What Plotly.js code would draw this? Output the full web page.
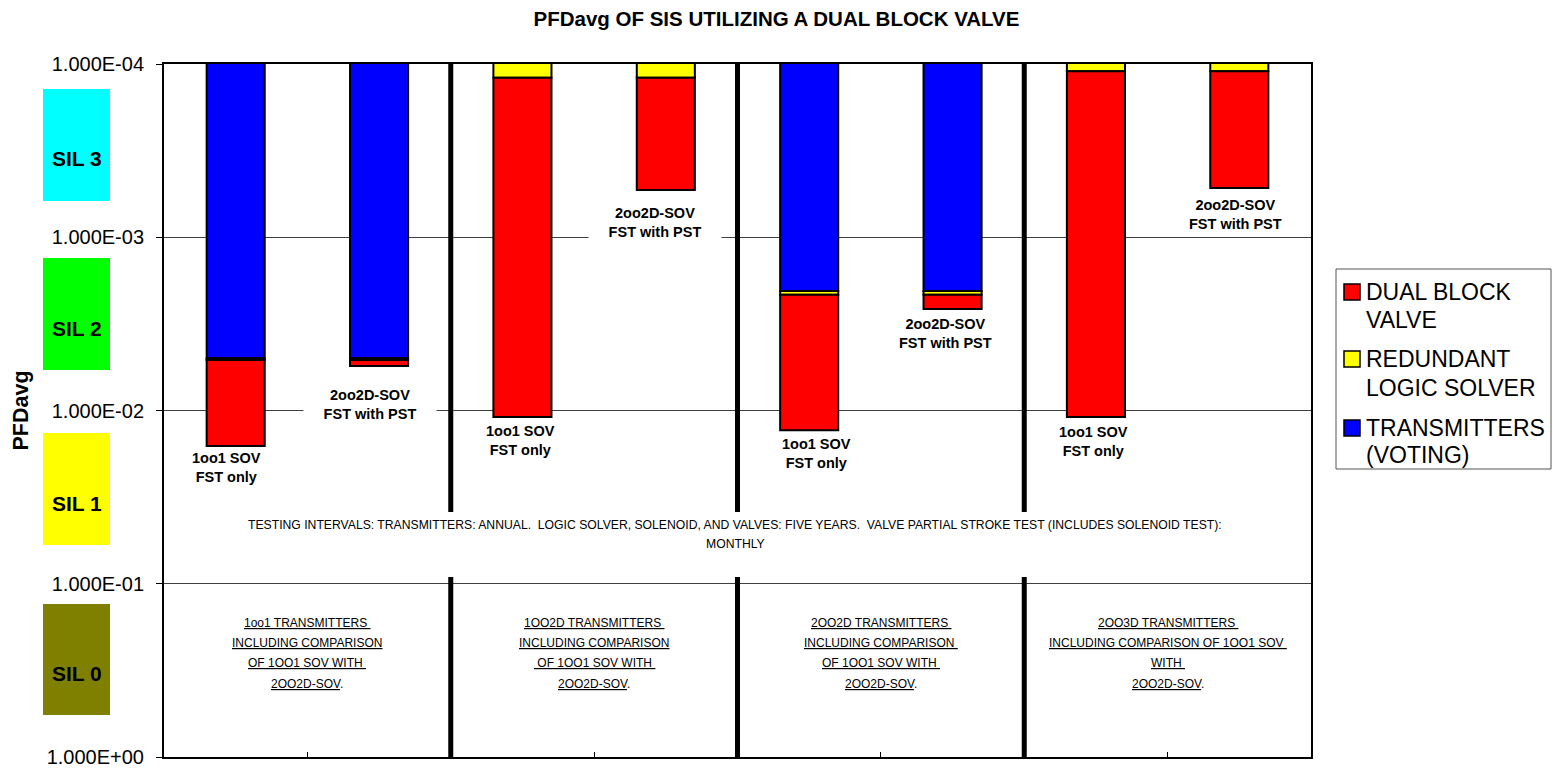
<!DOCTYPE html>
<html><head><meta charset="utf-8">
<script src="https://cdn.plot.ly/plotly-3.0.1.min.js"></script>
<style>html,body{margin:0;padding:0;background:#fff}#chart{width:1553px;height:768px}</style>
</head><body><div id="chart"></div>
<script>
// ---------------- DATA ----------------
const barLabels = [
  '1oo1 SOV<br>FST only', '2oo2D-SOV<br>FST with PST',
  '1oo1 SOV<br>FST only', '2oo2D-SOV<br>FST with PST',
  '1oo1 SOV<br>FST only', '2oo2D-SOV<br>FST with PST',
  '1oo1 SOV<br>FST only', '2oo2D-SOV<br>FST with PST'
];
const seriesNames = ['DUAL BLOCK VALVE', 'REDUNDANT LOGIC SOLVER', 'TRANSMITTERS (VOTING)'];
const transmitters = [5.0e-3, 5.0e-3, 1.2e-5, 1.2e-5, 2.04e-3, 2.04e-3, 2.0e-6, 2.0e-6];
const logicSolver  = [1.08e-4, 1.08e-4, 1.08e-4, 1.08e-4, 1.08e-4, 1.08e-4, 1.08e-4, 1.08e-4];
const dualBlockValve = [1.09e-2, 4.2e-4, 1.078e-2, 4.14e-4, 1.085e-2, 4.5e-4, 1.08e-2, 4.1e-4];
const groupLabels = [
  ['1oo1 TRANSMITTERS\u00a0', 'INCLUDING COMPARISON', 'OF 1OO1 SOV WITH\u00a0', '2OO2D-SOV'],
  ['1OO2D TRANSMITTERS\u00a0', 'INCLUDING COMPARISON', '\u00a0OF 1OO1 SOV WITH\u00a0', '2OO2D-SOV'],
  ['2OO2D TRANSMITTERS\u00a0', 'INCLUDING COMPARISON\u00a0', 'OF 1OO1 SOV WITH\u00a0', '2OO2D-SOV'],
  ['2OO3D TRANSMITTERS\u00a0', 'INCLUDING COMPARISON OF 1OO1 SOV\u00a0', 'WITH\u00a0', '2OO2D-SOV']
];
const noteLines = [
  'TESTING INTERVALS: TRANSMITTERS: ANNUAL.  LOGIC SOLVER, SOLENOID, AND VALVES: FIVE YEARS.  VALVE PARTIAL STROKE TEST (INCLUDES SOLENOID TEST):',
  'MONTHLY'
];
const silLabels = ['SIL 3', 'SIL 2', 'SIL 1', 'SIL 0'];
const silColors = ['#00FFFF', '#00FF00', '#FFFF00', '#808000'];
const yTickVals = [1e-4, 1e-3, 1e-2, 1e-1, 1];
const yTickText = ['1.000E-04', '1.000E-03', '1.000E-02', '1.000E-01', '1.000E+00'];

// ---------------- LAYOUT HELPERS ----------------
const PL = 164, PR = 1311, PT = 64, PB = 757;
const xp = px => (px - PL) / (PR - PL);
const yp = py => (PB - py) / (PB - PT);
const FONT = 'Liberation Sans, Arial, sans-serif';

const xIdx = barLabels.map((_, i) => i);
const FLOOR = 1e-9;
const cum1 = transmitters.slice();
const cum2 = transmitters.map((v, i) => v + logicSolver[i]);
const totals = cum2.map((v, i) => v + dualBlockValve[i]);

const barStyle = {width: 0.405, line: {color: '#000', width: 2}};
const traces = [
  {type: 'bar', name: seriesNames[2], x: xIdx, y: transmitters, base: transmitters.map(() => FLOOR),
   width: barStyle.width, marker: {color: '#0000FF', line: barStyle.line}, showlegend: false, hoverinfo: 'skip'},
  {type: 'bar', name: seriesNames[1], x: xIdx, y: logicSolver, base: cum1,
   width: barStyle.width, marker: {color: '#FFFF00', line: barStyle.line}, showlegend: false, hoverinfo: 'skip'},
  {type: 'bar', name: seriesNames[0], x: xIdx, y: dualBlockValve, base: cum2,
   width: barStyle.width, marker: {color: '#FF0000', line: barStyle.line}, showlegend: false, hoverinfo: 'skip'}
];

// per-label placement (pixels): downward offset of label centre from bar end, horizontal shift
const labelDrop = [21.5, 38.7, 24, 32, 23.3, 24.4, 24, 26.7];
const labelShiftX = [-9, -9, -2, -11, 7, -7, -2, -4];
const labelBg = [false, true, false, true, false, false, false, false];

const annotations = [];
barLabels.forEach((t, i) => {
  annotations.push({
    x: i, y: Math.log10(totals[i]), xref: 'x', yref: 'y', text: '<b>' + t + '</b>',
    showarrow: false, xanchor: 'center', yanchor: 'middle', yshift: -labelDrop[i], xshift: labelShiftX[i],
    font: {family: FONT, size: 14.5, color: '#000'},
    bgcolor: labelBg[i] ? '#ffffff' : 'rgba(0,0,0,0)', width: labelBg[i] ? 128 : undefined, borderpad: 2
  });
});
// note text
const noteY = [525, 544];
noteLines.forEach((t, i) => annotations.push({
  x: xp(735), y: yp(noteY[i]), xref: 'paper', yref: 'paper', text: t, showarrow: false,
  xanchor: 'center', yanchor: 'middle', font: {family: FONT, size: 12.2, color: '#000'}
}));
// group labels
const groupLineY = [623, 643, 663, 684];
groupLabels.forEach((lines, g) => {
  lines.forEach((t, j) => {
    const txt = j === lines.length - 1 ? '<u>' + t + '</u>.' : '<u>' + t + '</u>';
    annotations.push({
      x: 2 * g + 0.5, y: yp(groupLineY[j]), xref: 'x', yref: 'paper', text: txt, showarrow: false,
      xanchor: 'center', yanchor: 'middle', font: {family: FONT, size: 12, color: '#000'}
    });
  });
});
// SIL boxes
const silTop = [89, 258, 433, 604], silBot = [201, 370, 545, 715];
const shapes = [];
silLabels.forEach((s, i) => {
  shapes.push({type: 'rect', xref: 'paper', yref: 'paper', x0: xp(43), x1: xp(110), y0: yp(silBot[i]), y1: yp(silTop[i]),
    fillcolor: silColors[i], line: {width: 0}});
  annotations.push({x: xp(76.5), y: yp((silTop[i] + silBot[i]) / 2 + 14), xref: 'paper', yref: 'paper',
    text: '<b>' + s + '</b>', showarrow: false, xanchor: 'center', yanchor: 'middle',
    font: {family: FONT, size: 21, color: '#000'}});
});
// group separators
[1.5, 3.5, 5.5].forEach(b => shapes.push({type: 'line', xref: 'x', yref: 'paper', x0: b, x1: b, y0: 0, y1: 1,
  line: {color: '#000', width: 5}, layer: 'above'}));
// white box behind note
shapes.push({type: 'rect', xref: 'paper', yref: 'paper', x0: xp(235), x1: xp(1240), y0: yp(577), y1: yp(512),
  fillcolor: '#ffffff', line: {width: 0}, layer: 'above'});
// custom legend
shapes.push({type: 'rect', xref: 'paper', yref: 'paper', x0: xp(1336), x1: xp(1551), y0: yp(469), y1: yp(269),
  fillcolor: 'rgba(0,0,0,0)', line: {color: '#555', width: 1}});
const legColors = ['#FF0000', '#FFFF00', '#0000FF'];
const legLines = [['DUAL BLOCK', 'VALVE'], ['REDUNDANT', 'LOGIC SOLVER'], ['TRANSMITTERS', '(VOTING)']];
const legY = [[292, 320], [359, 388], [428, 455]];
legLines.forEach((ls, k) => {
  const cy = legY[k][0];
  shapes.push({type: 'rect', xref: 'paper', yref: 'paper', x0: xp(1344), x1: xp(1360), y0: yp(cy + 8), y1: yp(cy - 8),
    fillcolor: legColors[k], line: {color: '#000', width: 1.5}});
  ls.forEach((t, j) => annotations.push({x: xp(1364), y: yp(legY[k][j]), xref: 'paper', yref: 'paper', text: t,
    showarrow: false, xanchor: 'left', yanchor: 'middle', font: {family: FONT, size: 23, color: '#000'}}));
});

const layout = {
  width: 1553, height: 768,
  margin: {l: PL, r: 1553 - PR, t: PT, b: 768 - PB, pad: 0},
  paper_bgcolor: '#ffffff', plot_bgcolor: '#ffffff',
  barmode: 'overlay',
  font: {family: FONT, color: '#000'},
  title: {text: '<b>PFDavg OF SIS UTILIZING A DUAL BLOCK VALVE</b>', xref: 'container', yref: 'container',
    x: 0.5, y: 1 - 19 / 768, xanchor: 'center', yanchor: 'middle', font: {family: FONT, size: 20.5, color: '#000'}},
  xaxis: {range: [-0.5, 7.5], showgrid: false, zeroline: false, showticklabels: false,
    tickvals: [0.5, 1.5, 2.5, 3.5, 4.5, 5.5, 6.5], ticks: 'inside', ticklen: 5, tickwidth: 1, tickcolor: '#000',
    showline: true, linecolor: '#000', linewidth: 2, mirror: true, fixedrange: true},
  yaxis: {type: 'log', range: [0, -4], tickvals: yTickVals, ticktext: yTickText, ticks: 'outside', ticklen: 6,
    tickwidth: 1, tickcolor: '#000', ticklabelstandoff: 8, tickfont: {family: FONT, size: 20, color: '#000'},
    showgrid: true, gridcolor: '#404040', gridwidth: 1, zeroline: false,
    showline: true, linecolor: '#000', linewidth: 2, mirror: true, fixedrange: true,
    title: {text: '<b>PFDavg</b>', font: {family: FONT, size: 21.5, color: '#000'}, standoff: 12}},
  shapes: shapes,
  annotations: annotations,
  showlegend: false
};

Plotly.newPlot('chart', traces, layout, {displayModeBar: false, staticPlot: true});
</script>
</body></html>
